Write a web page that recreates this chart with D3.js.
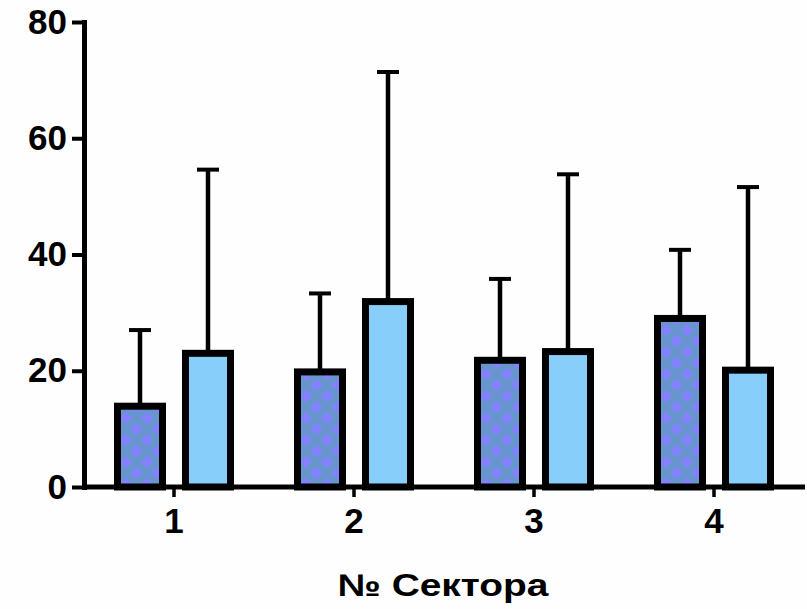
<!DOCTYPE html>
<html>
<head>
<meta charset="utf-8">
<script src="https://cdn.jsdelivr.net/npm/d3@7"></script>
<style>
  body { margin: 0; background: #fefefe; }
  svg { display: block; font-family: "Liberation Sans", Arial, sans-serif; }
</style>
</head>
<body>
<div id="chart"></div>
<script>
// data
let sectors = ["1", "2", "3", "4"];
let groups = ["a", "b"];
let meansA = [13.9, 19.8, 21.8, 29.0];
let sdA = [13.1, 13.5, 14.0, 11.8];
let meansB = [23.0, 31.9, 23.3, 20.1];
let sdB = [31.6, 39.5, 30.5, 31.5];
let yTicks = [0, 20, 40, 60, 80];
let xTitle = "№ Сектора";

let width = 807, height = 609;

let svg = d3.select("#chart")
    .append("svg")
    .attr("width", width)
    .attr("height", height);

// hatch pattern for the first group: purple diamonds on steel blue
let defs = svg.append("defs");
let pat = defs.append("pattern")
    .attr("id", "diamonds")
    .attr("patternUnits", "userSpaceOnUse")
    .attr("width", 21)
    .attr("height", 22);
pat.append("rect").attr("width", 21).attr("height", 22).attr("fill", "#6696cb");
let dia = (cx, cy) => `M${cx - 6.5},${cy} L${cx},${cy - 6.5} L${cx + 6.5},${cy} L${cx},${cy + 6.5} Z`;
pat.append("path")
    .attr("d", [dia(0, 0), dia(21, 0), dia(0, 22), dia(21, 22), dia(10.5, 11)].join(" "))
    .attr("fill", "#8282ff");

let data = sectors.map((s, i) => ({
    sector: s,
    values: [
        { key: "a", mean: meansA[i], sd: sdA[i] },
        { key: "b", mean: meansB[i], sd: sdB[i] }
    ]
}));

let x0 = d3.scaleBand()
    .domain(sectors)
    .range([84, 804]);

let x1 = d3.scaleBand()
    .domain(groups)
    .range([0, x0.bandwidth()])
    .paddingInner(0.338)
    .paddingOuter(0.4926);

let y = d3.scaleLinear()
    .domain([0, 80])
    .range([487, 22]);

let fills = { a: "url(#diamonds)", b: "#87cefa" };

// error bars (mean + SD, upper only)
let g = svg.append("g");
data.forEach(d => {
    let gx = x0(d.sector);
    d.values.forEach(v => {
        let cx = gx + x1(v.key) + x1.bandwidth() / 2;
        g.append("line")
            .attr("x1", cx).attr("x2", cx)
            .attr("y1", y(v.mean)).attr("y2", y(v.mean + v.sd))
            .attr("stroke", "#000").attr("stroke-width", 4.5);
        g.append("line")
            .attr("x1", cx - 11).attr("x2", cx + 11)
            .attr("y1", y(v.mean + v.sd)).attr("y2", y(v.mean + v.sd))
            .attr("stroke", "#000").attr("stroke-width", 4);
    });
});

// bars
svg.append("g")
    .selectAll("g")
    .data(data)
    .enter()
    .append("g")
    .attr("transform", d => "translate(" + x0(d.sector) + ",0)")
    .selectAll("rect")
    .data(d => d.values)
    .enter()
    .append("rect")
    .attr("x", d => x1(d.key))
    .attr("y", d => y(d.mean))
    .attr("width", x1.bandwidth())
    .attr("height", d => y(0) - y(d.mean))
    .attr("fill", d => fills[d.key])
    .attr("stroke", "#000")
    .attr("stroke-width", 7);

// y axis
let yAxis = svg.append("g")
    .attr("transform", "translate(84,0)")
    .call(d3.axisLeft(y).tickValues(yTicks).tickSize(12).tickSizeOuter(0).tickPadding(5));
yAxis.select(".domain").attr("stroke-width", 5).attr("stroke-linecap", "square");
yAxis.selectAll(".tick line").attr("stroke-width", 4);
yAxis.selectAll("text")
    .attr("fill", "#000")
    .style("font-size", "35px")
    .style("font-weight", "bold");

// x axis
let xAxis = svg.append("g")
    .attr("transform", "translate(0,487)")
    .call(d3.axisBottom(x0).tickSize(10).tickSizeOuter(0).tickPadding(11));
xAxis.select(".domain")
    .attr("d", "M84,0H805")
    .attr("stroke-width", 5);
xAxis.selectAll(".tick line").attr("stroke-width", 3.5);
xAxis.selectAll("text")
    .attr("fill", "#000")
    .style("font-size", "35px")
    .style("font-weight", "bold");

// axis title
svg.append("text")
    .attr("x", 443)
    .attr("y", 596)
    .attr("text-anchor", "middle")
    .attr("textLength", 211)
    .attr("lengthAdjust", "spacingAndGlyphs")
    .style("font-size", "31px")
    .style("font-weight", "bold")
    .text(xTitle);
</script>
</body>
</html>
